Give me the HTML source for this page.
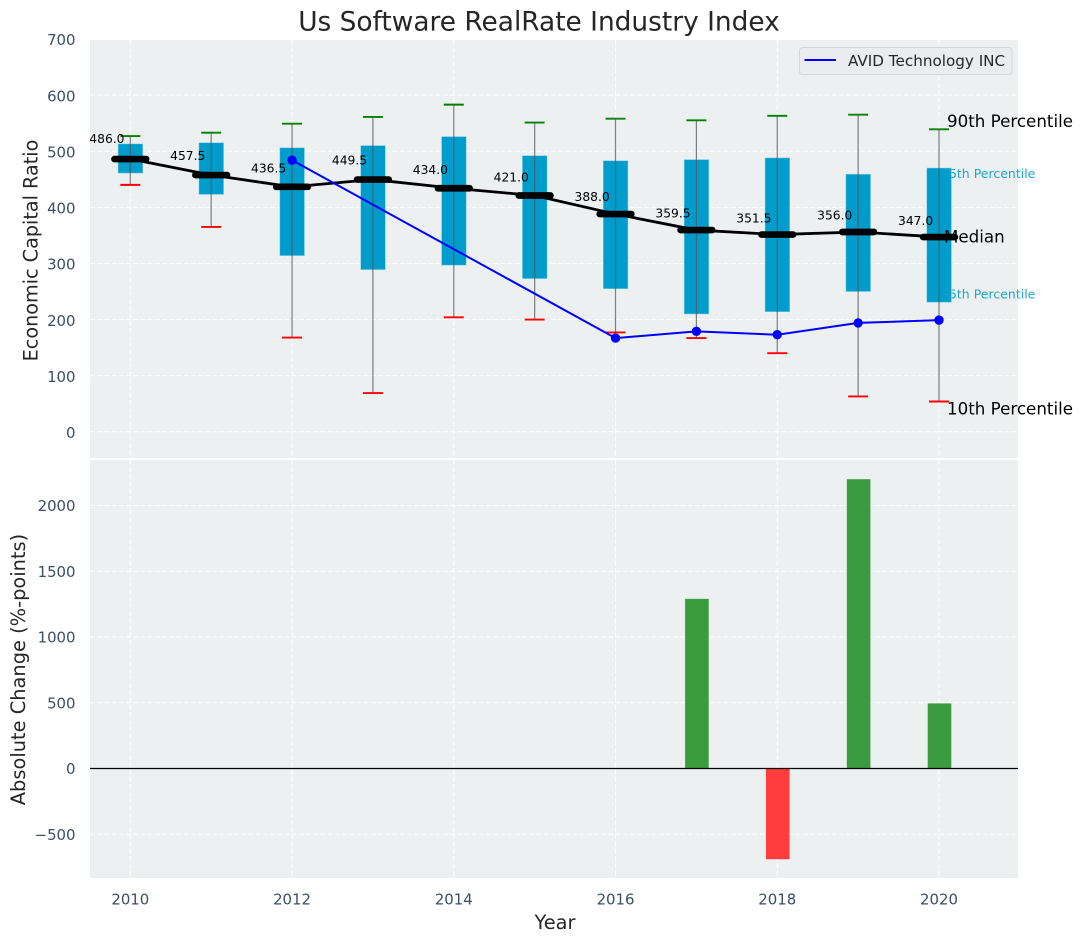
<!DOCTYPE html>
<html lang="en">
<head>
<meta charset="utf-8">
<title>Us Software RealRate Industry Index</title>
<style>
html,body{margin:0;padding:0;background:#fff;}
svg{display:block;font-family:"DejaVu Sans","Liberation Sans",sans-serif;}
</style>
</head>
<body>
<svg id="chart" xmlns="http://www.w3.org/2000/svg" width="1082" height="942" viewBox="0 0 1082 942"></svg>
<script>
const years = [2010,2011,2012,2013,2014,2015,2016,2017,2018,2019,2020];
const p90 = [527,533,549,561,583,551,558,555,563,565,539];
const q3 = [513,515,506,510,526,492,483,485,488,459,470];
const medians = [486,457.5,436.5,449.5,434,421,388,359.5,351.5,356,347];
const q1 = [461,423,314,289,297,273,255,210,214,250,231];
const p10 = [440,365,168,69,204,200,177,167,140,63,54];
const companyYears = [2012,2016,2017,2018,2019,2020];
const companyValues = [484,167,179,173,194,199];
const changeYears = [2017,2018,2019,2020];
const changeValues = [1290,-690,2200,495];
const xTicks = [2010,2012,2014,2016,2018,2020];
const yTicksTop = [0,100,200,300,400,500,600,700];
const yTicksBottom = [-500,0,500,1000,1500,2000];

const svg = document.getElementById('chart');
const NS = 'http://www.w3.org/2000/svg';
const X = v => 130.3 + (v - 2010) * 80.87;
const YT = v => 431.8 - v * 0.5612;
const YB = v => 768.5 - v * 0.1315;
const L = 90, R = 1018, T1 = 40, B1 = 458, T2 = 460, B2 = 878;
const gridColor = '#ffffff';
const tickColor = '#3b4f66';
const labelColor = '#262626';

function mk(tag, attrs, text) {
  const el = document.createElementNS(NS, tag);
  for (const k in attrs) el.setAttribute(k, attrs[k]);
  if (text !== undefined) el.textContent = text;
  svg.appendChild(el);
  return el;
}
let el;

el = mk('rect', {x:L, y:T1, width:R-L, height:B1-T1, fill:'#ecf0f1'});


el = mk('rect', {x:L, y:T2, width:R-L, height:B2-T2, fill:'#ecf0f1'});



for (const t of xTicks) {
  el = mk('line', {x1:X(t), x2:X(t), y1:T1, y2:B1, stroke:gridColor, 'stroke-width':1, 'stroke-dasharray':'5 2.2'});
  
  
  el = mk('line', {x1:X(t), x2:X(t), y1:T2, y2:B2, stroke:gridColor, 'stroke-width':1, 'stroke-dasharray':'5 2.2'});
  
  
  el = mk('text', {x:X(t), y:904.5, 'text-anchor':'middle', 'font-size':14.9, fill:tickColor}, String(t));
  
  
}
for (const t of yTicksTop) {
  if (t < 700) {
    el = mk('line', {x1:L, x2:R, y1:YT(t), y2:YT(t), stroke:gridColor, 'stroke-width':1, 'stroke-dasharray':'5 2.2'});
    
    
  }
  el = mk('text', {x:75.5, y:YT(t)+6.2, 'text-anchor':'end', 'font-size':14.9, fill:tickColor}, String(t));
  
  
}
for (const t of yTicksBottom) {
  el = mk('line', {x1:L, x2:R, y1:YB(t), y2:YB(t), stroke:gridColor, 'stroke-width':1, 'stroke-dasharray':'5 2.2'});
  
  
  el = mk('text', {x:75.5, y:YB(t)+5.5, 'text-anchor':'end', 'font-size':14.9, fill:tickColor}, String(t).replace('-', '\u2212'));
  
  
}

const last = years.length - 1;
el = mk('text', {x:941, y:YT(q3[last])+10, 'font-size':12.5, fill:'#1ca6d0'}, '75th Percentile');


el = mk('text', {x:941, y:YT(q1[last])-3.5, 'font-size':12.5, fill:'#1ca6d0'}, '25th Percentile');



years.forEach((y, i) => {
  const cx = X(y);
  el = mk('rect', {x:cx-12.2, y:YT(q3[i]), width:24.6, height:YT(q1[i])-YT(q3[i]), fill:'#009ccb', stroke:'#7fcfe6', 'stroke-width':0.5});
  
  
  el = mk('line', {x1:cx, x2:cx, y1:YT(p90[i]), y2:YT(p10[i]), stroke:'#555', 'stroke-opacity':0.75, 'stroke-width':1.2});
  
  
  el = mk('line', {x1:cx-10, x2:cx+10, y1:YT(p90[i]), y2:YT(p90[i]), stroke:'#008000', 'stroke-width':1.9});
  
  
  el = mk('line', {x1:cx-10, x2:cx+10, y1:YT(p10[i]), y2:YT(p10[i]), stroke:'#ff0000', 'stroke-width':1.9});
  
  
});

el = mk('polyline', {points:years.map((y,i)=>X(y)+','+YT(medians[i])).join(' '), fill:'none', stroke:'#000', 'stroke-width':2.8});



el = mk('text', {x:944, y:YT(medians[last])+5.5, 'font-size':16.7, fill:'#000'}, 'Median');



years.forEach((y, i) => {
  const cx = X(y);
  el = mk('line', {x1:cx-15.8, x2:cx+15.8, y1:YT(medians[i]), y2:YT(medians[i]), stroke:'#000', 'stroke-width':6.7, 'stroke-linecap':'round'});
  
  
  el = mk('text', {x:cx-41, y:YT(medians[i]*1.05)-2.3, 'font-size':12.3, fill:'#000'}, medians[i].toFixed(1));
  
  
});

el = mk('polyline', {points:companyYears.map((y,i)=>X(y)+','+YT(companyValues[i])).join(' '), fill:'none', stroke:'#0000ff', 'stroke-width':2});


companyYears.forEach((y, i) => {
  el = mk('circle', {cx:X(y), cy:YT(companyValues[i]), r:4.7, fill:'#0000ff'});
  
  
});

el = mk('text', {x:947, y:YT(p90[last])-2.5, 'font-size':16.7, fill:'#000'}, '90th Percentile');


el = mk('text', {x:947, y:YT(p10[last])+13, 'font-size':16.7, fill:'#000'}, '10th Percentile');



changeYears.forEach((y, i) => {
  const v = changeValues[i];
  const top = Math.min(YB(v), YB(0));
  const h = Math.abs(YB(v) - YB(0));
  el = mk('rect', {x:X(y)-11.3, y:top, width:23.6, height:h, fill: v >= 0 ? '#3b9c3f' : '#ff3d3f'});
  
  
});
el = mk('line', {x1:L, x2:R, y1:YB(0), y2:YB(0), stroke:'#000', 'stroke-width':1.3});



el = mk('rect', {x:799.5, y:47.5, width:212.5, height:27, rx:3, fill:'#eaecf0', stroke:'#d5d7db', 'stroke-width':1});


el = mk('line', {x1:804.5, x2:836, y1:60, y2:60, stroke:'#0000ff', 'stroke-width':2});


el = mk('text', {x:848, y:66, 'font-size':15.2, fill:labelColor}, 'AVID Technology INC');



el = mk('text', {x:539, y:30.5, 'text-anchor':'middle', 'font-size':26.4, fill:labelColor}, 'Us Software RealRate Industry Index');


el = mk('text', {x:555, y:929, 'text-anchor':'middle', 'font-size':19.4, fill:labelColor}, 'Year');


el = mk('text', {x:0, y:0, transform:'translate(37.5,250.5) rotate(-90)', 'text-anchor':'middle', 'font-size':19.2, fill:labelColor}, 'Economic Capital Ratio');


el = mk('text', {x:0, y:0, transform:'translate(25,669.5) rotate(-90)', 'text-anchor':'middle', 'font-size':19.4, fill:labelColor}, 'Absolute Change (%-points)');


</script>
</body>
</html>
